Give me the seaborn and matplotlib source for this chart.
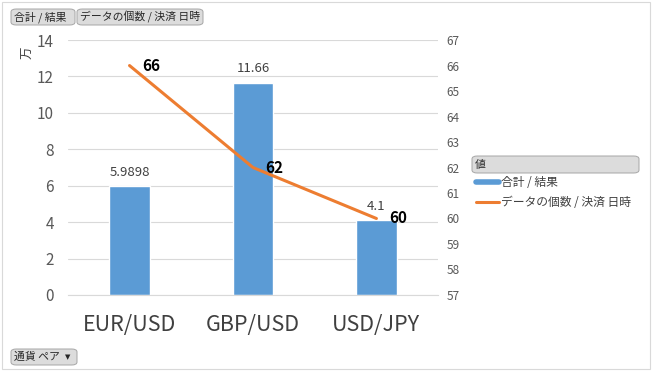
import pandas as pd
import matplotlib.pyplot as plt
import seaborn as sns
from matplotlib.patches import FancyBboxPatch, Rectangle
from matplotlib.lines import Line2D

pairs = ["EUR/USD", "GBP/USD", "USD/JPY"]
totals = [5.9898, 11.66, 4.1]          # 合計 / 結果 (万)
total_labels = ["5.9898", "11.66", "4.1"]
counts = [66, 62, 60]                  # データの個数 / 決済 日時

df = pd.DataFrame({"pair": pairs, "total": totals, "count": counts})

sns.set_style("white")
plt.rcParams['font.family'] = ['Noto Sans CJK JP', 'DejaVu Sans']

fig = plt.figure(figsize=(6.52, 3.71), dpi=100)
ax = fig.add_axes([0.104, 0.205, 0.568, 0.687])

sns.barplot(data=df, x="pair", y="total", color="#5B9BD5", saturation=1, width=0.33, ax=ax)
ax.set_ylim(0, 14)
ax.set_yticks(range(0, 15, 2))
ax.yaxis.grid(True, color="#D9D9D9", linewidth=0.8)
ax.set_axisbelow(True)
for s in ax.spines.values():
    s.set_visible(False)
ax.spines["bottom"].set_visible(True)
ax.spines["bottom"].set_color("#D9D9D9")
ax.tick_params(axis="y", labelsize=11, colors="#595959", length=0, pad=10)
ax.tick_params(axis="x", labelsize=15.5, colors="#404040", length=0, pad=14)
ax.set_xlabel("")
ax.set_ylabel("万", fontsize=9, color="#404040")
ax.yaxis.set_label_coords(-0.09, 0.95)
ax.set_xlim(-0.5, 2.5)
for i, lab in enumerate(total_labels):
    ax.text(i, totals[i] + 0.4, lab, ha="center", va="bottom", fontsize=9.5, color="#404040")

ax2 = ax.twinx()
sns.lineplot(data=df, x="pair", y="count", color="#ED7D31", linewidth=2.2, ax=ax2)
ax2.set_ylim(57, 67)
ax2.set_yticks(range(57, 68))
for s in ax2.spines.values():
    s.set_visible(False)
ax2.tick_params(axis="y", labelsize=8.5, colors="#595959", length=0, pad=6)
ax2.set_ylabel("")
ax2.set_xlabel("")
for i, c in enumerate(counts):
    ax2.text(i + 0.1, c, str(c), ha="left", va="center", fontsize=11, fontweight="bold", color="black")
ax2.set_xlim(-0.5, 2.5)

# outer border
fig.patches.append(Rectangle((0.003, 0.005), 0.994, 0.99, transform=fig.transFigure,
                             fill=False, edgecolor="#D9D9D9", linewidth=0.8))

def button(x, y, w, h, text, arrow=False):
    fig.patches.append(FancyBboxPatch((x / 652, 1 - (y + h) / 371), w / 652, h / 371,
                                      boxstyle="round,pad=0,rounding_size=0.008",
                                      transform=fig.transFigure, facecolor="#DCDCDC",
                                      edgecolor="#A6A6A6", linewidth=0.7))
    fig.text((x + 3) / 652, 1 - (y + h / 2) / 371, text, fontsize=7.8, color="#262626",
             ha="left", va="center")
    if arrow:
        fig.text((x + w - 9) / 652, 1 - (y + h / 2) / 371, "▼", fontsize=5, color="#262626",
                 ha="center", va="center", family="DejaVu Sans")

button(11, 9, 64, 16, "合計 / 結果")
button(77, 9, 126, 16, "データの個数 / 決済 日時")
button(11, 349, 66, 16, "通貨 ペア", arrow=True)
button(472, 156, 167, 17, "値")

# legend
handles = [Line2D([], [], color="#5B9BD5", linewidth=4),
           Line2D([], [], color="#ED7D31", linewidth=2.2)]
fig.legend(handles, ["合計 / 結果", "データの個数 / 決済 日時"], loc="upper left",
           bbox_to_anchor=(474 / 652, 1 - 174 / 371), frameon=False, fontsize=8.5,
           handlelength=1.9, handletextpad=0.2, labelspacing=0.55, borderaxespad=0,
           borderpad=0.2, labelcolor="#404040")

fig.savefig("out.png", dpi=100)
